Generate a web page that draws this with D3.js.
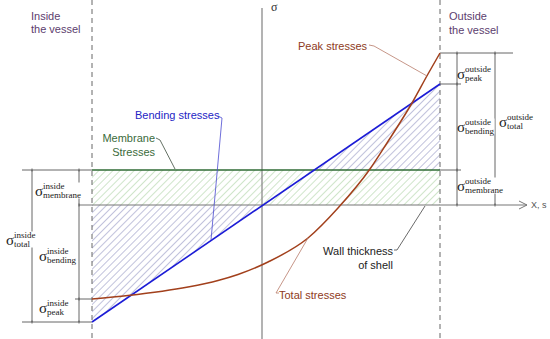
<!DOCTYPE html>
<html>
<head>
<meta charset="utf-8">
<script src="https://cdn.jsdelivr.net/npm/d3@7"></script>
<style>
  body { margin: 0; background: #fff; }
  svg { display: block; font-family: "Liberation Sans", Arial, sans-serif; }
</style>
</head>
<body>
<svg id="chart" width="550" height="339"></svg>
<script>
// wall position s (axis at 0) and stress values
const wallS = [-170, 178];            // inner wall, outer wall
const membraneStress = 35;
const bendingStress = [-117, 121];    // at inner / outer wall (line through origin)
const totalS = [-170, -134, -74, -44, -24, 6, 46, 76, 108, 125, 150, 166, 178];
const totalSigma = [-94, -90.5, -82, -75.5, -69.5, -57, -33, -3, 36, 62, 102, 131, 152];

const width = 550, height = 339;
const svg = d3.select("#chart");

const x = d3.scaleLinear().domain(wallS).range([92, 440]);
const y = d3.scaleLinear().domain([-117, 152]).range([322, 53]);

const innerPeak = totalSigma[0];
const outerPeak = totalSigma[totalSigma.length - 1];

// hatch patterns
const defs = svg.append("defs");
function hatch(id, color) {
  const p = defs.append("pattern")
    .attr("id", id)
    .attr("patternUnits", "userSpaceOnUse")
    .attr("width", 5).attr("height", 5)
    .attr("patternTransform", "rotate(45)");
  p.append("line")
    .attr("x1", 0).attr("y1", 0).attr("x2", 0).attr("y2", 5)
    .attr("stroke", color).attr("stroke-width", 1.1);
}
hatch("hBlue", "#8d8fbf");
hatch("hGreen", "#a6d09e");

// bending hatch (between x-axis and bending line)
const s0 = wallS[0] + (0 - bendingStress[0]) * (wallS[1] - wallS[0]) / (bendingStress[1] - bendingStress[0]);
const poly = d3.line().x(d => x(d[0])).y(d => y(d[1]));
svg.append("path")
  .attr("d", poly([[wallS[0], 0], [s0, 0], [wallS[0], bendingStress[0]]]) + "Z")
  .attr("fill", "url(#hBlue)");
svg.append("path")
  .attr("d", poly([[s0, 0], [wallS[1], 0], [wallS[1], bendingStress[1]]]) + "Z")
  .attr("fill", "url(#hBlue)");

// membrane band
svg.append("rect")
  .attr("x", x(wallS[0])).attr("y", y(membraneStress))
  .attr("width", x(wallS[1]) - x(wallS[0]))
  .attr("height", y(0) - y(membraneStress))
  .attr("fill", "#fff");
svg.append("rect")
  .attr("x", x(wallS[0])).attr("y", y(membraneStress))
  .attr("width", x(wallS[1]) - x(wallS[0]))
  .attr("height", y(0) - y(membraneStress))
  .attr("fill", "url(#hGreen)");

// wall lines (dashed)
wallS.forEach(s => {
  svg.append("line")
    .attr("x1", x(s)).attr("x2", x(s))
    .attr("y1", 0).attr("y2", height)
    .attr("stroke", "#666").attr("stroke-dasharray", "5,4");
});

// sigma axis
svg.append("line")
  .attr("x1", x(0)).attr("x2", x(0))
  .attr("y1", 8).attr("y2", height)
  .attr("stroke", "#8a8a8a").attr("stroke-width", 1.3);
svg.append("text")
  .attr("x", x(0) + 9).attr("y", 11)
  .attr("font-family", "Liberation Serif, serif")
  .attr("font-size", 12)
  .attr("fill", "#333")
  .text("σ");

// x axis with open arrow
svg.append("line")
  .attr("x1", 79).attr("x2", 527)
  .attr("y1", y(0)).attr("y2", y(0))
  .attr("stroke", "#777").attr("stroke-width", 1.1);
svg.append("path")
  .attr("d", `M519,${y(0) - 4}L527,${y(0)}L519,${y(0) + 4}`)
  .attr("fill", "none").attr("stroke", "#777");
svg.append("text")
  .attr("x", 531).attr("y", y(0) + 3)
  .attr("font-size", 9).attr("fill", "#555")
  .text("X, s");

// dimension / extension lines
const dim = svg.append("g").attr("stroke", "#555").attr("stroke-width", 0.9);
function seg(x1, y1, x2, y2) {
  dim.append("line").attr("x1", x1).attr("y1", y1).attr("x2", x2).attr("y2", y2);
}
// inside
seg(22, y(membraneStress), x(wallS[0]), y(membraneStress));
seg(22, y(bendingStress[0]), x(wallS[0]), y(bendingStress[0]));
seg(75, y(innerPeak), x(wallS[0]), y(innerPeak));
seg(32, y(membraneStress), 32, y(bendingStress[0]));
seg(79, y(membraneStress), 79, y(bendingStress[0]));
// outside
seg(x(wallS[1]), y(outerPeak), 513, y(outerPeak));
seg(x(wallS[1]), y(bendingStress[1]), 461, y(bendingStress[1]));
seg(x(wallS[1]), y(membraneStress), 461, y(membraneStress));
seg(457, y(outerPeak), 457, y(0));
seg(495, y(outerPeak), 495, y(0));
// small ticks at junctions
[[79, y(0)], [79, y(innerPeak)], [457, y(bendingStress[1])], [457, y(membraneStress)], [457, y(0)], [495, y(0)],
 [32, y(membraneStress)], [32, y(bendingStress[0])], [79, y(membraneStress)], [79, y(bendingStress[0])],
 [457, y(outerPeak)], [495, y(outerPeak)]]
  .forEach(([cx, cy]) => seg(cx, cy - 1.5, cx, cy + 1.5));

// membrane line
svg.append("line")
  .attr("x1", x(wallS[0])).attr("x2", x(wallS[1]))
  .attr("y1", y(membraneStress)).attr("y2", y(membraneStress))
  .attr("stroke", "#2f6b34").attr("stroke-width", 1.5);

// bending line
svg.append("line")
  .attr("x1", x(wallS[0])).attr("y1", y(bendingStress[0]))
  .attr("x2", x(wallS[1])).attr("y2", y(bendingStress[1]))
  .attr("stroke", "#1c1cd6").attr("stroke-width", 1.6);

// total stress curve
svg.append("path")
  .datum(totalS.map((s, i) => [s, totalSigma[i]]))
  .attr("d", d3.line().x(d => x(d[0])).y(d => y(d[1])).curve(d3.curveMonotoneX))
  .attr("fill", "none")
  .attr("stroke", "#a2401c").attr("stroke-width", 1.5);

// leaders
function leader(pts, color) {
  svg.append("path")
    .attr("d", d3.line()(pts))
    .attr("fill", "none").attr("stroke", color).attr("stroke-width", 0.8);
}
leader([[218, 116], [222, 118], [211, 240]], "#4a4ad0");
leader([[156, 138], [160, 140], [175, 169]], "#3c4c3c");
leader([[369, 45], [374, 46], [427, 76]], "#b87b6a");
leader([[279, 293], [276, 293], [308, 238]], "#b87b6a");
leader([[394, 250], [397, 250], [425, 206]], "#444");

// labels
function label(lines, xx, y0, anchor, color) {
  lines.forEach((t, i) => {
    svg.append("text")
      .attr("x", xx).attr("y", y0 + i * 13.5)
      .attr("text-anchor", anchor)
      .attr("font-size", 11)
      .attr("fill", color)
      .text(t);
  });
}
label(["Inside", "the vessel"], 31, 19.5, "start", "#5c3d6e");
label(["Outside", "the vessel"], 449, 20, "start", "#5c3d6e");
label(["Bending stresses"], 135, 119, "start", "#2424c4");
label(["Membrane", "Stresses"], 155, 142, "end", "#3b6b3b");
label(["Peak stresses"], 298, 50, "start", "#8e3a22");
label(["Total stresses"], 279, 299, "start", "#8e3a22");
label(["Wall thickness", "of shell"], 393, 255, "end", "#222");

// sigma dimension labels
const sigmaLabels = [
  { sup: "inside", sub: "total", x: 6, y: 245 },
  { sup: "inside", sub: "membrane", x: 35, y: 196 },
  { sup: "inside", sub: "bending", x: 39, y: 261 },
  { sup: "inside", sub: "peak", x: 39, y: 313 },
  { sup: "outside", sub: "peak", x: 457, y: 79 },
  { sup: "outside", sub: "bending", x: 457, y: 132 },
  { sup: "outside", sub: "membrane", x: 457, y: 191 },
  { sup: "outside", sub: "total", x: 499, y: 127 }
];
sigmaLabels.forEach(d => {
  const g = svg.append("g").attr("font-family", "Liberation Serif, serif").attr("fill", "#222");
  const bg = g.append("rect").attr("fill", "#fff");
  g.append("text").attr("x", d.x).attr("y", d.y).attr("font-size", 15).text("σ");
  g.append("text").attr("x", d.x + 8).attr("y", d.y - 7.5).attr("font-size", 9).text(d.sup);
  g.append("text").attr("x", d.x + 8).attr("y", d.y + 1.5).attr("font-size", 9).text(d.sub);
  const b = g.node().getBBox();
  bg.attr("x", b.x + 1).attr("y", b.y + 2).attr("width", b.width - 1).attr("height", b.height - 3);
});
</script>
</body>
</html>
